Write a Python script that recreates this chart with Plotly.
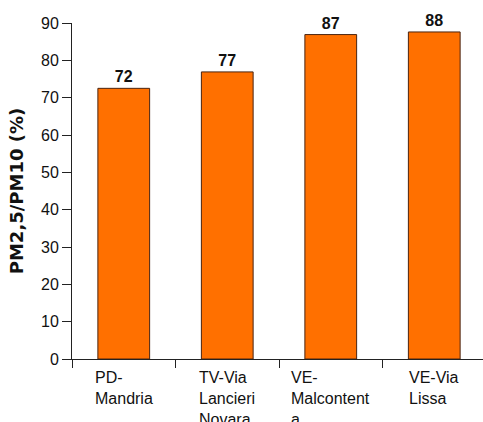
import plotly.graph_objects as go

categories = ["PD-<br>Mandria", "TV-Via<br>Lancieri<br>Novara", "VE-<br>Malcontent<br>a", "VE-Via<br>Lissa"]
values = [72.5, 76.9, 86.9, 87.6]
value_labels = ["72", "77", "87", "88"]
y_ticks = [0, 10, 20, 30, 40, 50, 60, 70, 80, 90]

x_pos = list(range(len(categories)))
boundaries = [i - 0.5 for i in range(len(categories) + 1)]

fig = go.Figure()
fig.add_trace(go.Bar(
    x=x_pos, y=values, width=0.5,
    marker=dict(color="#FF7000", line=dict(color="#4a2410", width=1)),
    text=value_labels, textposition="outside", cliponaxis=False,
    textfont=dict(family="Liberation Sans", size=16, color="#111111", weight="bold"),
))

for xp, lab in zip(x_pos, categories):
    fig.add_annotation(
        x=xp, y=0, xref="x", yref="y", text=lab, showarrow=False,
        xanchor="center", yanchor="top", align="left", yshift=-8,
        font=dict(family="Liberation Sans", size=16, color="#111111"),
    )

fig.update_layout(
    width=483, height=422,
    margin=dict(l=72, r=0, t=23, b=63),
    plot_bgcolor="white", paper_bgcolor="white",
    showlegend=False,
    xaxis=dict(
        range=[-0.5, 3.471], tickvals=boundaries, showticklabels=False,
        ticks="outside", ticklen=8, tickcolor="#222222", tickwidth=1,
        showline=True, linecolor="#222222", linewidth=1,
        showgrid=False, zeroline=False,
    ),
    yaxis=dict(
        range=[0, 90], tickvals=y_ticks,
        ticks="outside", ticklen=9, tickcolor="#222222", tickwidth=1,
        showline=True, linecolor="#222222", linewidth=1,
        showgrid=False, zeroline=False,
        tickfont=dict(family="Liberation Sans", size=16, color="#111111"),
        title=dict(text="PM2,5/PM10 (%)", standoff=12,
                   font=dict(family="DejaVu Sans", size=18, color="#111111", weight="bold")),
    ),
)

fig.write_html("out.html")
